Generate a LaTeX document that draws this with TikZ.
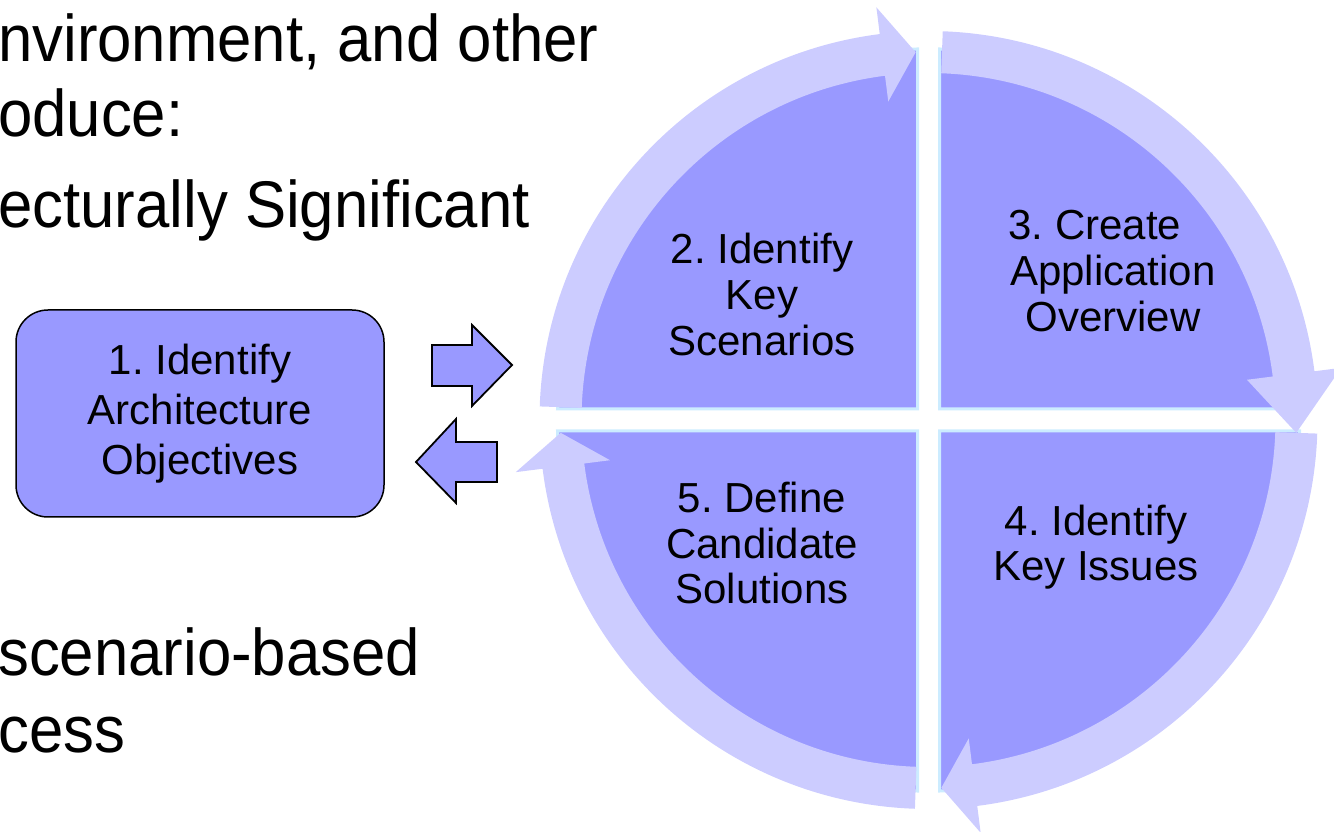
\documentclass[tikz,border=0pt]{standalone}
\usepackage{fontspec}
\setmainfont{Liberation Sans}
\newfontfamily\bodyfont[FakeStretch=0.935]{Liberation Sans}
\definecolor{quad}{RGB}{153,153,255}
\definecolor{ring}{RGB}{204,204,255}
\definecolor{edgecyan}{RGB}{204,236,255}
\begin{document}
\frenchspacing
\begin{tikzpicture}[x=1pt,y=1pt,
  quadshape/.style={fill=quad, draw=edgecyan, line width=3pt},
  ringarrow/.style={fill=ring, draw=none},
  blockarrow/.style={fill=quad, draw=black, line width=1.8pt, line join=miter},
  qtext/.style={align=center, font=\frenchspacing\fontsize{42}{46}\selectfont, inner sep=0pt, anchor=base},
  bigtext/.style={anchor=base west, inner sep=0pt, font=\bodyfont\frenchspacing\fontsize{66}{78}\selectfont},
  stepbox/.style={draw=black, line width=1.5pt, fill=quad, rounded corners=32pt,
    minimum width=368pt, minimum height=207pt, align=center, inner sep=0pt,
    font=\frenchspacing\fontsize{42}{50}\selectfont}
]
\useasboundingbox (0,0) rectangle (1334,831);
\clip (0,0) rectangle (1334,831);

% left body text (cut at the left edge)
\node[bigtext] (t1) at (-2,769) {nvironment, and other};
\node[bigtext] (t2) at (-2,694) {oduce:};
\node[bigtext] (t3) at (-2,603) {ecturally Significant};
\node[bigtext] (t4) at (-2,156) {scenario-based};
\node[bigtext] (t5) at (-2,79) {cess};

% step 1 box
\node[stepbox] (n1) at (200,417.5) {1. Identify\\Architecture\\Objectives};

% block arrows
\draw[blockarrow] (432,486) -- (472,486) -- (472,506) -- (512,466) -- (472,425) -- (472,445) -- (432,445) -- cycle;
\draw[blockarrow] (416,369) -- (456,412) -- (456,389) -- (497,389) -- (497,349) -- (456,349) -- (456,328) -- cycle;

% cycle
\begin{scope}[shift={(928.5,411)}]
  \path[quadshape] (-11,11) -- (-11,371) arc[start angle=90, end angle=180, radius=360] -- cycle;
  \path[quadshape] (11,11) -- (371,11) arc[start angle=0, end angle=90, radius=360] -- cycle;
  \path[quadshape] (-11,-11) -- (-371,-11) arc[start angle=180, end angle=270, radius=360] -- cycle;
  \path[quadshape] (11,-11) -- (11,-371) arc[start angle=270, end angle=360, radius=360] -- cycle;

  \path[ringarrow] (178:389) arc[start angle=178, end angle=97.2, radius=389]
     -- (97.2:416) -- (92:368) -- (97.2:321) -- (97.2:347)
     arc[start angle=97.2, end angle=178, radius=347] -- cycle;
  \path[ringarrow] (87.9:389) arc[start angle=87.9, end angle=7.2, radius=389]
     -- (7.2:416) -- (-2:368) -- (7.2:321) -- (7.2:347)
     arc[start angle=7.2, end angle=87.9, radius=347] -- cycle;
  \path[ringarrow] (-2:389) arc[start angle=-2, end angle=-82.8, radius=389]
     -- (-82.8:416) -- (-88:368) -- (-82.8:321) -- (-82.8:347)
     arc[start angle=-82.8, end angle=-2, radius=347] -- cycle;
  \path[ringarrow] (-92:389) arc[start angle=-92, end angle=-172.8, radius=389]
     -- (-172.8:416) -- (-178:368) -- (-172.8:321) -- (-172.8:347)
     arc[start angle=-172.8, end angle=-92, radius=347] -- cycle;
\end{scope}

% quadrant labels (base = baseline of the last line)
\node[qtext] (n2) at (762,475) {2. Identify\\Key\\Scenarios};
\node[qtext] (n3) at (1113,499) {3. Create\hspace*{36pt}\\Application\\Overview};
\node[qtext] (n4) at (1096,250) {4. Identify\\Key Issues};
\node[qtext] (n5) at (762,227) {5. Define\\Candidate\\Solutions};
\end{tikzpicture}
\end{document}
